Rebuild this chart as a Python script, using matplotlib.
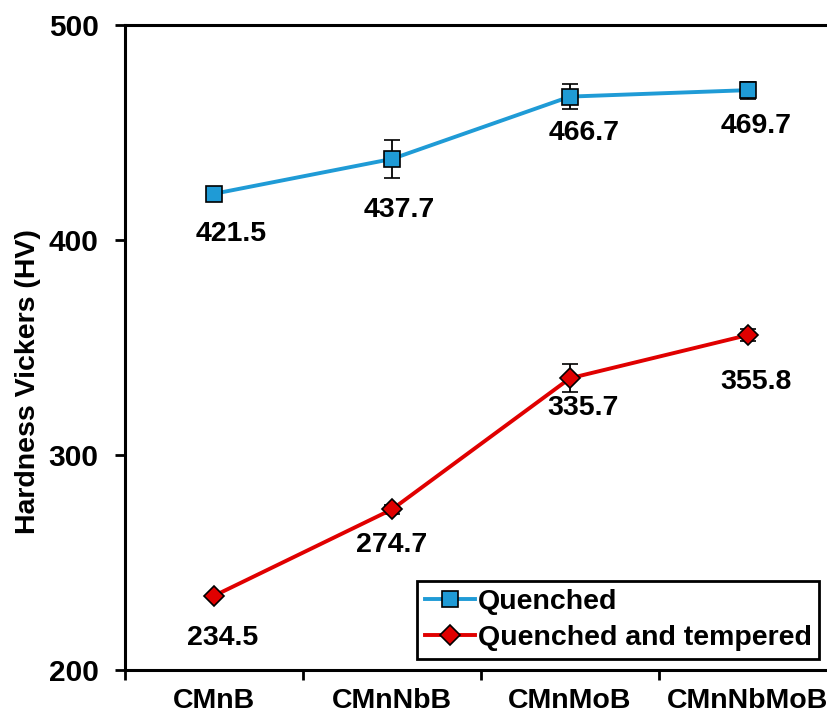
import matplotlib
matplotlib.use("Agg")
import matplotlib.pyplot as plt
from matplotlib.lines import Line2D
import numpy as np

plt.rcParams['font.family'] = ['Liberation Sans', 'DejaVu Sans']
plt.rcParams['font.weight'] = 'bold'

steels = ['CMnB', 'CMnNbB', 'CMnMoB', 'CMnNbMoB']
quenched = [421.5, 437.7, 466.7, 469.7]
quenched_err = [1.0, 8.7, 6.0, 4.0]
tempered = [234.5, 274.7, 335.7, 355.8]
tempered_err = [1.0, 2.0, 6.5, 3.0]

BLUE = '#1F9BD6'
RED = '#E00000'
FS = 20.5

fig = plt.figure(figsize=(8.28, 7.15), dpi=100)
ax = fig.add_axes([125/828, 1 - 670/715, 712/828, 645/715])

x = np.arange(len(steels))
ax.errorbar(x, quenched, yerr=quenched_err, color=BLUE, lw=2.8,
            marker='s', ms=11, mfc=BLUE, mec='black', mew=1.2,
            ecolor='black', elinewidth=1.3, capsize=6, capthick=1.3, zorder=3)
ax.errorbar(x, tempered, yerr=tempered_err, color=RED, lw=2.8,
            marker='D', ms=10, mfc=RED, mec='black', mew=1.2,
            ecolor='black', elinewidth=1.3, capsize=6, capthick=1.3, zorder=3)

# data labels (pixel offsets converted to points)
q_off = [(17, -40), (7, -51), (14, -36), (8, -36)]
t_off = [(9, -42), (0, -36), (13, -30), (8, -47)]
for vals, offs in ((quenched, q_off), (tempered, t_off)):
    for xi, v, (dx, dy) in zip(x, vals, offs):
        ax.annotate(f'{v:.1f}', (xi, v), xytext=(dx*0.72, dy*0.72),
                    textcoords='offset points', ha='center', va='center',
                    fontsize=FS, fontweight='bold')

ax.set_xlim(-0.5, 3.5)
ax.set_ylim(200, 500)
ax.set_yticks([200, 300, 400, 500])
ax.set_xticks(np.arange(-0.5, 3.0, 1.0))
ax.set_xticklabels([])
ax.set_xticks(x, minor=True)
ax.set_xticklabels(steels, minor=True)
ax.tick_params(axis='x', which='minor', length=0, pad=13, labelsize=FS)
ax.tick_params(axis='x', which='major', direction='out', length=7, width=2)
ax.tick_params(axis='y', direction='out', length=7, width=2, labelsize=21.5, pad=12)
for lab in ax.get_xticklabels(minor=True) + ax.get_yticklabels():
    lab.set_fontweight('bold')

for s in ['left', 'bottom', 'top']:
    ax.spines[s].set_linewidth(2.2)
ax.spines['right'].set_visible(False)

fig.text(28/828, 1 - 382/715, 'Hardness Vickers (HV)', rotation=90,
         ha='center', va='center', fontsize=FS, fontweight='bold')

handles = [
    Line2D([], [], color=BLUE, lw=2.8, marker='s', ms=11, mfc=BLUE,
           mec='black', mew=1.2),
    Line2D([], [], color=RED, lw=2.8, marker='D', ms=10, mfc=RED,
           mec='black', mew=1.2),
]
leg = fig.legend(handles, ['Quenched', 'Quenched and tempered'],
                 loc='upper left', bbox_to_anchor=(417/828, 1 - 581/715),
                 fontsize=FS, frameon=True, fancybox=False, framealpha=1,
                 edgecolor='black', borderpad=0.28, labelspacing=0.35,
                 handlelength=1.75, handletextpad=0.1, borderaxespad=0)
leg.get_frame().set_linewidth(2)
for t in leg.get_texts():
    t.set_fontweight('bold')

fig.savefig('out.png', dpi=100)
